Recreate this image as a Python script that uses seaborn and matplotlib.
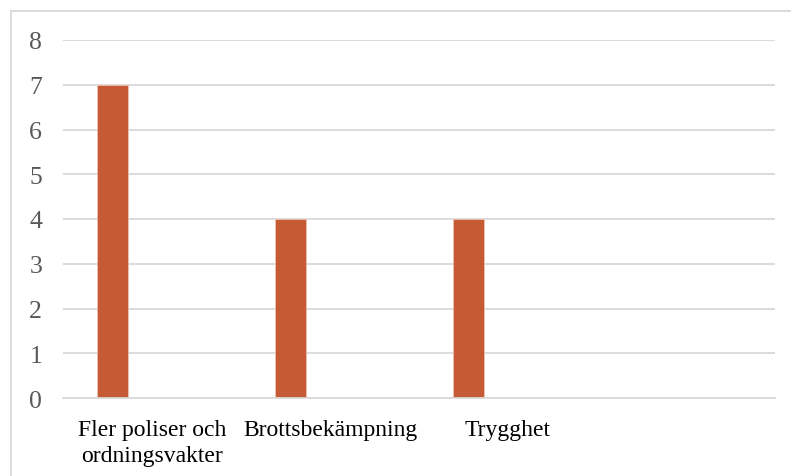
import matplotlib
matplotlib.use("Agg")
import matplotlib.pyplot as plt
import seaborn as sns
import pandas as pd
import numpy as np
from matplotlib.patches import Rectangle

categories = ["Fler poliser och\nordningsvakter", "Brottsbekämpning", "Trygghet", " "]
series1 = [7, 4, 4, np.nan]
series_names = ["Serie 1", "Serie 2"]
yticks = [0, 1, 2, 3, 4, 5, 6, 7, 8]

df = pd.DataFrame({"cat": categories, "val": series1, "serie": series_names[0]})

sns.set_theme(style="white")
plt.rcParams['font.family'] = ['Liberation Serif', 'DejaVu Serif']

fig = plt.figure(figsize=(7.91, 4.77), dpi=100)
ax = fig.add_axes([63/791, 1-399/477, (775-63)/791, (399-41)/477])

sns.barplot(data=df, x="cat", y="val", hue="serie", hue_order=series_names,
            order=categories, palette=["#c55a35", "#ed7d31"], width=0.88, gap=0.605,
            dodge=True, legend=False, ax=ax, errorbar=None, saturation=1,
            edgecolor="#f0c8b8", linewidth=0.5)

ax.set_ylim(0, 8)
ax.set_xlim(-0.5, len(categories) - 0.5)
ax.set_yticks(yticks)
ax.set_yticklabels([str(t) for t in yticks], fontsize=18.5, color="#595959")
ax.set_xticks(range(len(categories)))
ax.set_xticklabels(categories, fontsize=17, color="black", linespacing=1.35)
ax.tick_params(axis="y", length=0, pad=15)
ax.tick_params(axis="x", length=0, pad=15)
ax.set_xlabel("")
ax.set_ylabel("")
ax.yaxis.grid(True, color="#d9d9d9", linewidth=1.3)
ax.set_axisbelow(True)
for s in ["top", "right", "left"]:
    ax.spines[s].set_visible(False)
ax.spines["bottom"].set_color("#d9d9d9")
ax.spines["bottom"].set_linewidth(1.3)

fig.patches.append(Rectangle((11/791, -0.1), 1.2, 1 - 12/477 + 0.1,
                             transform=fig.transFigure, fill=False,
                             edgecolor="#d9d9d9", linewidth=1.3, zorder=0))

fig.savefig("out.png", dpi=100)
